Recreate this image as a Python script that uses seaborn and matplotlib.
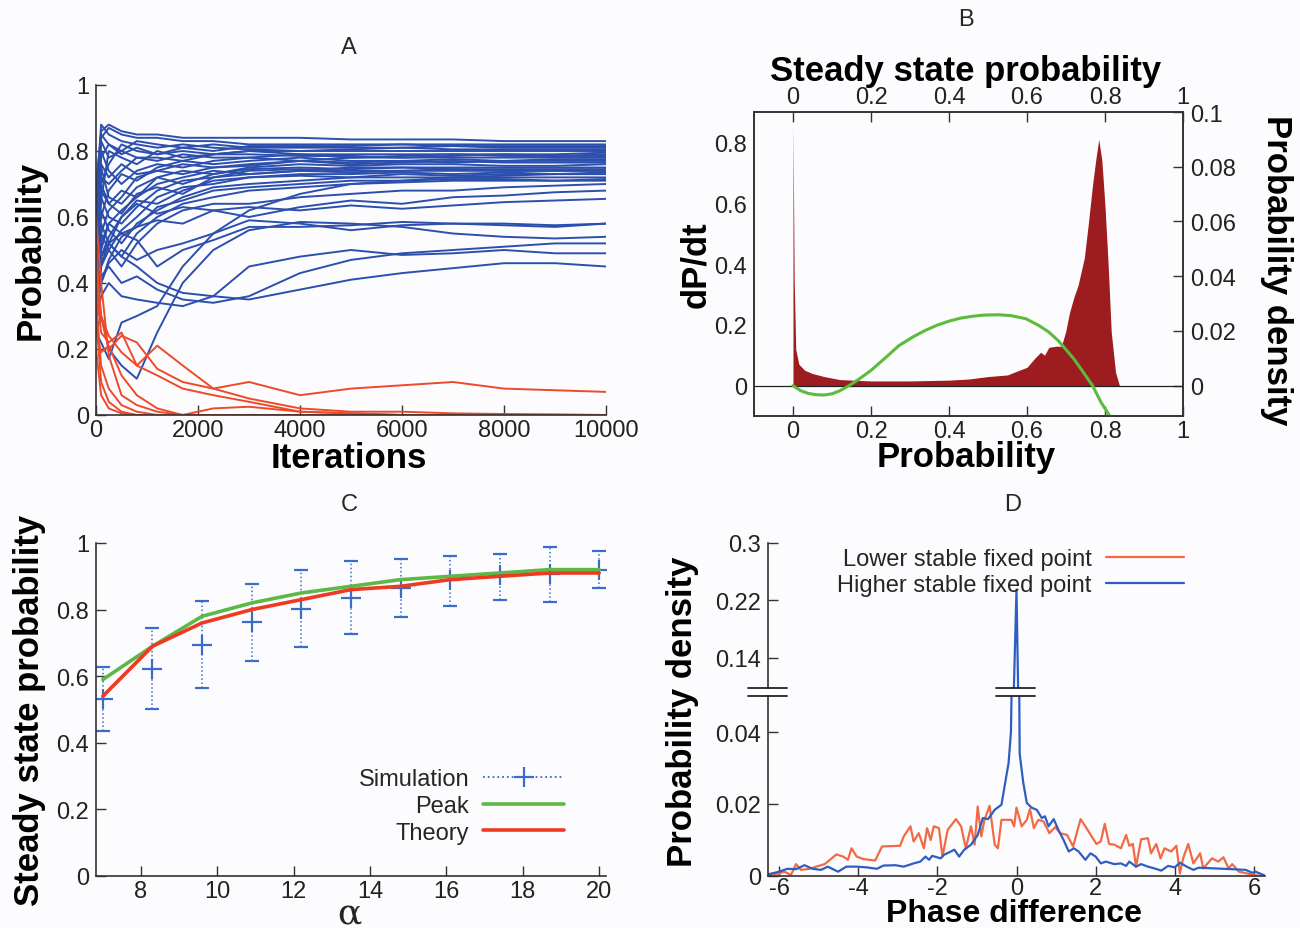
import numpy as np
import pandas as pd
import seaborn as sns
import matplotlib.pyplot as plt
from matplotlib.lines import Line2D
from matplotlib.ticker import FuncFormatter

sns.set_style("ticks")
plt.rcParams['font.family'] = ['Liberation Sans Narrow', 'Liberation Sans', 'DejaVu Sans']

# ---------------- A: probability trajectories ----------------
iters = [0, 100, 250, 500, 800, 1200, 1700, 2300, 3000, 4000, 5000, 6000, 7000, 8000, 9000, 10000]
blue_paths = [
    [0.60, 0.86, 0.88, 0.86, 0.85, 0.85, 0.84, 0.84, 0.84, 0.84, 0.835, 0.835, 0.835, 0.83, 0.83, 0.83],
    [0.50, 0.84, 0.87, 0.85, 0.84, 0.84, 0.83, 0.83, 0.82, 0.82, 0.82, 0.82, 0.82, 0.82, 0.82, 0.82],
    [0.70, 0.85, 0.82, 0.79, 0.81, 0.79, 0.81, 0.80, 0.815, 0.815, 0.815, 0.82, 0.815, 0.815, 0.815, 0.815],
    [0.45, 0.78, 0.82, 0.80, 0.83, 0.82, 0.81, 0.82, 0.81, 0.81, 0.81, 0.81, 0.815, 0.81, 0.81, 0.81],
    [0.65, 0.88, 0.85, 0.83, 0.82, 0.81, 0.82, 0.81, 0.805, 0.80, 0.805, 0.81, 0.805, 0.805, 0.805, 0.805],
    [0.40, 0.70, 0.76, 0.82, 0.80, 0.79, 0.80, 0.79, 0.80, 0.80, 0.80, 0.80, 0.80, 0.80, 0.80, 0.80],
    [0.35, 0.65, 0.80, 0.78, 0.76, 0.80, 0.78, 0.79, 0.80, 0.79, 0.79, 0.79, 0.79, 0.79, 0.79, 0.795],
    [0.30, 0.72, 0.70, 0.74, 0.78, 0.77, 0.79, 0.78, 0.78, 0.79, 0.78, 0.785, 0.79, 0.785, 0.785, 0.79],
    [0.58, 0.83, 0.78, 0.80, 0.78, 0.78, 0.77, 0.79, 0.79, 0.785, 0.785, 0.78, 0.785, 0.79, 0.785, 0.785],
    [0.55, 0.80, 0.74, 0.70, 0.74, 0.76, 0.75, 0.77, 0.78, 0.77, 0.78, 0.78, 0.78, 0.78, 0.78, 0.78],
    [0.45, 0.60, 0.68, 0.73, 0.71, 0.75, 0.77, 0.76, 0.77, 0.78, 0.77, 0.77, 0.775, 0.77, 0.775, 0.775],
    [0.48, 0.76, 0.72, 0.76, 0.73, 0.74, 0.76, 0.75, 0.755, 0.77, 0.765, 0.77, 0.765, 0.77, 0.77, 0.77],
    [0.28, 0.55, 0.62, 0.66, 0.72, 0.74, 0.73, 0.75, 0.76, 0.77, 0.76, 0.765, 0.77, 0.765, 0.765, 0.765],
    [0.38, 0.75, 0.66, 0.64, 0.69, 0.72, 0.74, 0.73, 0.75, 0.76, 0.755, 0.76, 0.76, 0.755, 0.755, 0.76],
    [0.33, 0.52, 0.58, 0.62, 0.66, 0.70, 0.72, 0.74, 0.73, 0.74, 0.75, 0.75, 0.75, 0.75, 0.75, 0.75],
    [0.40, 0.68, 0.64, 0.68, 0.66, 0.72, 0.70, 0.73, 0.745, 0.75, 0.745, 0.75, 0.745, 0.745, 0.745, 0.745],
    [0.50, 0.66, 0.60, 0.58, 0.63, 0.68, 0.71, 0.72, 0.74, 0.745, 0.74, 0.74, 0.745, 0.74, 0.74, 0.74],
    [0.52, 0.70, 0.64, 0.61, 0.67, 0.69, 0.67, 0.72, 0.73, 0.74, 0.735, 0.74, 0.74, 0.74, 0.74, 0.74],
    [0.42, 0.48, 0.54, 0.60, 0.65, 0.64, 0.68, 0.71, 0.72, 0.73, 0.73, 0.735, 0.73, 0.735, 0.73, 0.735],
    [0.25, 0.22, 0.17, 0.28, 0.30, 0.33, 0.45, 0.55, 0.62, 0.67, 0.70, 0.71, 0.72, 0.725, 0.73, 0.73],
    [0.26, 0.45, 0.50, 0.56, 0.60, 0.66, 0.69, 0.70, 0.72, 0.725, 0.72, 0.73, 0.725, 0.73, 0.73, 0.73],
    [0.36, 0.62, 0.56, 0.52, 0.58, 0.62, 0.66, 0.69, 0.70, 0.71, 0.72, 0.72, 0.72, 0.72, 0.72, 0.72],
    [0.30, 0.40, 0.47, 0.54, 0.57, 0.63, 0.65, 0.68, 0.69, 0.70, 0.71, 0.71, 0.715, 0.715, 0.71, 0.715],
    [0.32, 0.58, 0.52, 0.48, 0.55, 0.60, 0.64, 0.66, 0.68, 0.69, 0.70, 0.705, 0.71, 0.71, 0.71, 0.71],
    [0.35, 0.55, 0.50, 0.45, 0.52, 0.58, 0.62, 0.64, 0.64, 0.66, 0.67, 0.68, 0.68, 0.69, 0.695, 0.70],
    [0.30, 0.50, 0.58, 0.55, 0.57, 0.59, 0.58, 0.62, 0.60, 0.63, 0.65, 0.64, 0.66, 0.665, 0.675, 0.68],
    [0.28, 0.45, 0.52, 0.60, 0.64, 0.61, 0.63, 0.62, 0.63, 0.62, 0.635, 0.625, 0.635, 0.645, 0.65, 0.655],
    [0.30, 0.48, 0.52, 0.55, 0.53, 0.45, 0.50, 0.53, 0.57, 0.57, 0.575, 0.585, 0.58, 0.575, 0.57, 0.58],
    [0.32, 0.40, 0.46, 0.50, 0.47, 0.50, 0.52, 0.55, 0.59, 0.58, 0.56, 0.575, 0.58, 0.58, 0.575, 0.58],
    [0.25, 0.30, 0.20, 0.15, 0.11, 0.25, 0.40, 0.50, 0.56, 0.585, 0.58, 0.57, 0.55, 0.54, 0.535, 0.54],
    [0.30, 0.42, 0.45, 0.40, 0.42, 0.38, 0.35, 0.34, 0.36, 0.43, 0.47, 0.49, 0.50, 0.51, 0.52, 0.52],
    [0.28, 0.36, 0.40, 0.36, 0.35, 0.34, 0.33, 0.36, 0.45, 0.48, 0.50, 0.485, 0.49, 0.50, 0.49, 0.49],
    [0.32, 0.46, 0.52, 0.48, 0.45, 0.40, 0.37, 0.36, 0.35, 0.38, 0.41, 0.43, 0.445, 0.46, 0.46, 0.45],
]
red_paths = [
    [0.45, 0.30, 0.24, 0.19, 0.15, 0.21, 0.15, 0.08, 0.10, 0.06, 0.08, 0.09, 0.10, 0.08, 0.075, 0.07],
    [0.50, 0.30, 0.20, 0.24, 0.22, 0.14, 0.10, 0.08, 0.05, 0.02, 0.01, 0.01, 0.005, 0.003, 0.002, 0.0],
    [0.40, 0.25, 0.22, 0.25, 0.15, 0.12, 0.08, 0.06, 0.04, 0.01, 0.005, 0.0, 0.0, 0.0, 0.0, 0.0],
    [0.35, 0.15, 0.08, 0.03, 0.01, 0.0, 0.0, 0.0, 0.0, 0.0, 0.0, 0.0, 0.0, 0.0, 0.0, 0.0],
    [0.30, 0.10, 0.04, 0.01, 0.0, 0.0, 0.0, 0.0, 0.0, 0.0, 0.0, 0.0, 0.0, 0.0, 0.0, 0.0],
    [0.25, 0.19, 0.21, 0.12, 0.06, 0.02, 0.0, 0.02, 0.025, 0.01, 0.005, 0.0, 0.0, 0.0, 0.0, 0.0],
    [0.20, 0.06, 0.02, 0.005, 0.0, 0.0, 0.0, 0.0, 0.0, 0.0, 0.0, 0.0, 0.0, 0.0, 0.0, 0.0],
    [0.60, 0.40, 0.18, 0.06, 0.03, 0.01, 0.0, 0.0, 0.0, 0.0, 0.0, 0.0, 0.0, 0.0, 0.0, 0.0],
]

# ---------------- B: histogram + dP/dt ----------------
hist_pts = [(0, 0.0956), (0.003, 0.039), (0.007, 0.0133), (0.015, 0.0078), (0.03, 0.0056),
            (0.05, 0.0044), (0.08, 0.0033), (0.12, 0.0022), (0.2, 0.0017), (0.3, 0.0017),
            (0.4, 0.002), (0.45, 0.0024), (0.5, 0.0033), (0.55, 0.0039), (0.58, 0.0056),
            (0.6, 0.0067), (0.62, 0.010), (0.635, 0.0122), (0.645, 0.0111), (0.656, 0.014),
            (0.675, 0.0144), (0.688, 0.0144), (0.699, 0.0196), (0.709, 0.0267), (0.72, 0.0322),
            (0.731, 0.0367), (0.747, 0.0467), (0.757, 0.0589), (0.768, 0.0733), (0.776, 0.0822),
            (0.784, 0.090), (0.792, 0.0822), (0.8, 0.0656), (0.808, 0.0444), (0.816, 0.0196),
            (0.827, 0.0049), (0.837, 0.0)]
dpdt_x = [0, 0.02, 0.04, 0.06, 0.08, 0.1, 0.12, 0.144, 0.17, 0.2, 0.24, 0.272, 0.31, 0.34, 0.37,
          0.4, 0.43, 0.46, 0.49, 0.528, 0.56, 0.597, 0.63, 0.656, 0.68, 0.699, 0.72, 0.741, 0.768,
          0.79, 0.812]
dpdt = [0, -0.017, -0.026, -0.03, -0.031, -0.027, -0.017, 0, 0.022, 0.05, 0.095, 0.132, 0.162, 0.182,
        0.199, 0.212, 0.222, 0.228, 0.232, 0.233, 0.23, 0.22, 0.198, 0.176, 0.148, 0.12, 0.088, 0.05, 0,
        -0.055, -0.1]

# ---------------- C: steady state vs alpha ----------------
alpha = [7, 8.3, 9.6, 10.9, 12.2, 13.5, 14.8, 16.1, 17.4, 18.7, 20]
sim_mean = [0.532, 0.622, 0.694, 0.762, 0.803, 0.835, 0.866, 0.888, 0.905, 0.908, 0.92]
sim_lo = [0.436, 0.502, 0.564, 0.645, 0.687, 0.727, 0.778, 0.811, 0.83, 0.823, 0.865]
sim_hi = [0.627, 0.744, 0.827, 0.878, 0.92, 0.946, 0.951, 0.96, 0.966, 0.988, 0.976]
peak = [0.59, 0.69, 0.78, 0.82, 0.85, 0.87, 0.89, 0.90, 0.91, 0.92, 0.92]
theory = [0.54, 0.69, 0.76, 0.80, 0.83, 0.86, 0.87, 0.89, 0.90, 0.91, 0.91]

# ---------------- D: phase difference densities ----------------
lower_pts = [(-6.26, 0.0003), (-6.0, 0.0007), (-5.87, 0.0012), (-5.7, 0.0003), (-5.57, 0.0033),
             (-5.45, 0.0017), (-5.23, 0.002), (-5.06, 0.0026), (-4.85, 0.0033), (-4.77, 0.004),
             (-4.55, 0.006), (-4.38, 0.0054), (-4.26, 0.0045), (-4.17, 0.0077), (-4.04, 0.0054),
             (-3.87, 0.0047), (-3.57, 0.0043), (-3.4, 0.0082), (-2.94, 0.0084), (-2.85, 0.011),
             (-2.68, 0.0138), (-2.6, 0.0096), (-2.47, 0.0119), (-2.34, 0.0077), (-2.26, 0.0133),
             (-2.17, 0.010), (-2.09, 0.0138), (-1.96, 0.0133), (-1.87, 0.0054), (-1.74, 0.0128),
             (-1.53, 0.0158), (-1.4, 0.0138), (-1.28, 0.0077), (-1.15, 0.0138), (-1.06, 0.0087),
             (-0.98, 0.0193), (-0.89, 0.011), (-0.81, 0.0156), (-0.68, 0.0195), (-0.55, 0.0087),
             (-0.47, 0.0077), (-0.38, 0.0156), (-0.13, 0.0156), (-0.06, 0.0138), (0.0, 0.019),
             (0.13, 0.0138), (0.26, 0.0156), (0.34, 0.0186), (0.44, 0.0133), (0.55, 0.0156),
             (0.68, 0.0152), (0.83, 0.0119), (0.98, 0.0136), (1.1, 0.0119), (1.28, 0.0114),
             (1.43, 0.0082), (1.62, 0.0158), (1.74, 0.0138), (2.02, 0.0089), (2.13, 0.0096),
             (2.23, 0.0145), (2.34, 0.0089), (2.47, 0.0087), (2.64, 0.0077), (2.77, 0.0114),
             (2.85, 0.0084), (2.94, 0.0089), (3.02, 0.0026), (3.15, 0.0102), (3.32, 0.0105),
             (3.4, 0.0063), (3.53, 0.0089), (3.64, 0.0049), (3.74, 0.0077), (3.91, 0.0068),
             (4.04, 0.0084), (4.13, 0.0007), (4.21, 0.0049), (4.34, 0.0089), (4.47, 0.0035),
             (4.64, 0.0063), (4.72, 0.0021), (4.94, 0.0049), (5.1, 0.004), (5.23, 0.0052),
             (5.36, 0.0021), (5.45, 0.0033), (5.62, 0.0012), (5.87, 0.0006), (6.04, 0.0002),
             (6.17, 0.0)]
higher_pts = [(-6.34, 0.0003), (-6.0, 0.0012), (-5.79, 0.002), (-5.57, 0.0019), (-5.36, 0.003),
              (-5.15, 0.002), (-4.94, 0.0017), (-4.77, 0.0026), (-4.51, 0.0012), (-4.3, 0.0026),
              (-4.04, 0.0026), (-3.79, 0.0024), (-3.53, 0.002), (-3.36, 0.0029), (-3.06, 0.003),
              (-2.85, 0.0026), (-2.6, 0.0035), (-2.43, 0.004), (-2.3, 0.0054), (-2.21, 0.0045),
              (-2.13, 0.0056), (-1.92, 0.0049), (-1.83, 0.0059), (-1.66, 0.0068), (-1.57, 0.0073),
              (-1.45, 0.0054), (-1.32, 0.0073), (-1.15, 0.0087), (-0.98, 0.0114), (-0.85, 0.0161),
              (-0.72, 0.0158), (-0.55, 0.0184), (-0.38, 0.0198), (-0.3, 0.025), (-0.2, 0.0314),
              (-0.14, 0.04), (-0.07, 0.09), (0.0, 0.235), (0.04, 0.1), (0.08, 0.034),
              (0.17, 0.026), (0.26, 0.0203), (0.38, 0.019), (0.51, 0.0184), (0.64, 0.0161),
              (0.72, 0.0166), (0.81, 0.0138), (0.94, 0.0158), (1.06, 0.0128), (1.19, 0.010),
              (1.32, 0.0068), (1.45, 0.0077), (1.57, 0.0068), (1.74, 0.0045), (1.87, 0.0063),
              (2.0, 0.0054), (2.13, 0.0035), (2.26, 0.004), (2.47, 0.0033), (2.64, 0.0035),
              (2.77, 0.0028), (2.85, 0.004), (3.02, 0.0026), (3.15, 0.0033), (3.32, 0.0026),
              (3.49, 0.0021), (3.66, 0.0015), (3.83, 0.0028), (4.0, 0.0024), (4.13, 0.0037),
              (4.3, 0.0026), (4.47, 0.0017), (4.6, 0.0023), (5.02, 0.0021), (5.45, 0.0019),
              (5.79, 0.0017), (5.96, 0.0009), (6.04, 0.0012), (6.26, 0.0002)]

W, H = 1300, 929
BG = '#fcfcff'
SPINE = '#333333'
fig = plt.figure(figsize=(13, 9.29), dpi=100, facecolor=BG)
fmt = FuncFormatter(lambda v, p: f"{v:g}")


def box(l, r, t, b):
    return [l / W, 1 - b / H, (r - l) / W, (b - t) / H]


def style(ax):
    ax.set_facecolor(BG)
    for s in ax.spines.values():
        s.set_color(SPINE)
        s.set_linewidth(1.2)
    ax.tick_params(direction='in', length=7, width=1, labelsize=17, pad=5,
                   color=SPINE, labelcolor='#222222')
    ax.tick_params(axis='x', pad=3)
    ax.set_xlabel('')
    ax.set_ylabel('')


def ftext(x, y, s, **kw):
    kw.setdefault('va', 'center')
    fig.text(x / W, 1 - y / H, s, ha='center', **kw)


LABEL = dict(fontsize=25, fontweight='bold', color='black')

# ----- panel A -----
axA = fig.add_axes(box(96, 606, 86, 416))
rows = []
for i, p in enumerate(blue_paths):
    rows += [(t, v, f"b{i}", "high") for t, v in zip(iters, p)]
for i, p in enumerate(red_paths):
    rows += [(t, v, f"r{i}", "low") for t, v in zip(iters, p)]
dfA = pd.DataFrame(rows, columns=["iter", "prob", "run", "group"])
sns.lineplot(data=dfA, x="iter", y="prob", units="run", estimator=None, hue="group",
             hue_order=["high", "low"], palette={"high": "#2c4fae", "low": "#ee4a2a"},
             legend=False, lw=1.4, sort=False, ax=axA)
axA.set_xlim(0, 10000)
axA.set_ylim(0, 1)
axA.set_xticks([0, 2000, 4000, 6000, 8000, 10000])
axA.set_yticks([0, 0.2, 0.4, 0.6, 0.8, 1])
axA.yaxis.set_major_formatter(fmt)
sns.despine(ax=axA)
style(axA)
ftext(349, 48, "A", fontsize=17)
ftext(30, 250, "Probability", rotation=90, **LABEL)
ftext(349, 468, "Iterations", va='baseline', **LABEL)

# ----- panel B -----
axB = fig.add_axes(box(754, 1183, 113, 417))
axR = axB.twinx()
hx, hy = zip(*hist_pts)
axR.fill_between(hx, 0, hy, color='#9c1c1f', lw=0)
axR.set_ylim(-0.1 / 9, 0.1)
axR.set_yticks([0, 0.02, 0.04, 0.06, 0.08, 0.1])
axR.yaxis.set_major_formatter(fmt)
axB.set_zorder(axR.get_zorder() + 1)
axB.patch.set_visible(False)
axB.axhline(0, color='#222222', lw=0.9)
sns.lineplot(x=dpdt_x, y=dpdt, color='#5dbb3c', lw=2.2, ax=axB)
axB.set_xlim(-0.1, 1)
axB.set_ylim(-0.1, 0.9)
axB.set_xticks([0, 0.2, 0.4, 0.6, 0.8, 1])
axB.set_yticks([0, 0.2, 0.4, 0.6, 0.8])
axB.xaxis.set_major_formatter(fmt)
axB.yaxis.set_major_formatter(fmt)
axB.tick_params(top=True, labeltop=True)
style(axB)
style(axR)
axR.set_facecolor(BG)
axB.tick_params(axis='y', length=0)
ftext(966, 20, "B", fontsize=17)
ftext(966, 72, "Steady state probability", **LABEL)
ftext(966, 467, "Probability", va='baseline', **LABEL)
ftext(696, 265, "dP/dt", rotation=90, **LABEL)
ftext(1277, 270, "Probability density", rotation=270, **LABEL)

# ----- panel C -----
axC = fig.add_axes(box(96, 606, 544, 877))
lo_err = [m - l for m, l in zip(sim_mean, sim_lo)]
hi_err = [h - m for m, h in zip(sim_mean, sim_hi)]
eb = axC.errorbar(alpha, sim_mean, yerr=[lo_err, hi_err], fmt='+', color='#3a6cc8',
                  ms=14, mew=1.6, elinewidth=1.1, capsize=5, capthick=1.1, zorder=2)
eb[2][0].set_linestyle(':')
sns.lineplot(x=alpha, y=peak, color='#5cb946', lw=2.6, ax=axC, zorder=3)
sns.lineplot(x=alpha, y=theory, color='#ee3a22', lw=2.6, ax=axC, zorder=4)
axC.set_xlim(6.82, 20.18)
axC.set_ylim(0, 1)
axC.set_xticks([8, 10, 12, 14, 16, 18, 20])
axC.set_yticks([0, 0.2, 0.4, 0.6, 0.8, 1])
axC.yaxis.set_major_formatter(fmt)
sns.despine(ax=axC)
style(axC)
c_handles = [Line2D([], [], color='#3a6cc8', ls=':', lw=1.3, marker='+', ms=14, mew=1.6, markevery=[1]),
             Line2D([], [], color='#5cb946', lw=2.6),
             Line2D([], [], color='#ee3a22', lw=2.6)]
axC.legend(c_handles, ["Simulation", "Peak", "Theory"], loc='lower right',
           bbox_to_anchor=(585 / W, 1 - 866 / H), bbox_transform=fig.transFigure,
           frameon=False, markerfirst=False, fontsize=17, handlelength=3.4, labelspacing=0.2,
           handletextpad=0.6)
ftext(349, 505, "C", fontsize=17)
ftext(30, 710, "Steady state probability", rotation=90, **LABEL)
ftext(349, 914, "α", fontsize=26, family='DejaVu Serif')

# ----- panel D (broken y axis) -----
axDl = fig.add_axes(box(768, 1265, 697, 877))
axDu = fig.add_axes(box(768, 1265, 544, 689))
lx, ly = zip(*lower_pts)
gx, gy = zip(*higher_pts)
for k, ax in enumerate([axDu, axDl]):
    sns.lineplot(x=lx, y=ly, color='#f26a45', lw=1.6, sort=False, ax=ax,
                 label="Lower stable fixed point" if k == 0 else None)
    sns.lineplot(x=gx, y=gy, color='#2f5ec2', lw=1.6, sort=False, ax=ax,
                 label="Higher stable fixed point" if k == 0 else None)
    ax.set_xlim(-6.28, 6.28)
    style(ax)
axDl.set_ylim(0, 0.05)
axDl.set_yticks([0, 0.02, 0.04])
axDl.set_xticks([-6, -4, -2, 0, 2, 4, 6])
axDl.yaxis.set_major_formatter(fmt)
axDl.xaxis.set_major_formatter(fmt)
axDl.tick_params(axis='x', pad=1)
sns.despine(ax=axDl)
axDu.set_ylim(0.098, 0.3)
axDu.set_yticks([0.14, 0.22, 0.3])
axDu.yaxis.set_major_formatter(fmt)
axDu.set_xticks([])
sns.despine(ax=axDu, bottom=True)
axDu.legend(loc='upper right', bbox_to_anchor=(1205 / W, 1 - 528 / H), bbox_transform=fig.transFigure,
            frameon=False, markerfirst=False, fontsize=17, handlelength=3.3, labelspacing=0.15,
            handletextpad=0.6)
for x0, x1 in [(748, 787), (996, 1035)]:
    for yy in (689, 697):
        fig.add_artist(Line2D([x0 / W, x1 / W], [1 - yy / H, 1 - yy / H], color='#222222', lw=1.3))
ftext(1013, 505, "D", fontsize=17)
ftext(683, 712, "Probability density", rotation=90, **LABEL)
ftext(1014, 922, "Phase difference", va='baseline', fontsize=23, fontweight='bold', color='black')

fig.savefig("out.png", dpi=100, facecolor=BG)
